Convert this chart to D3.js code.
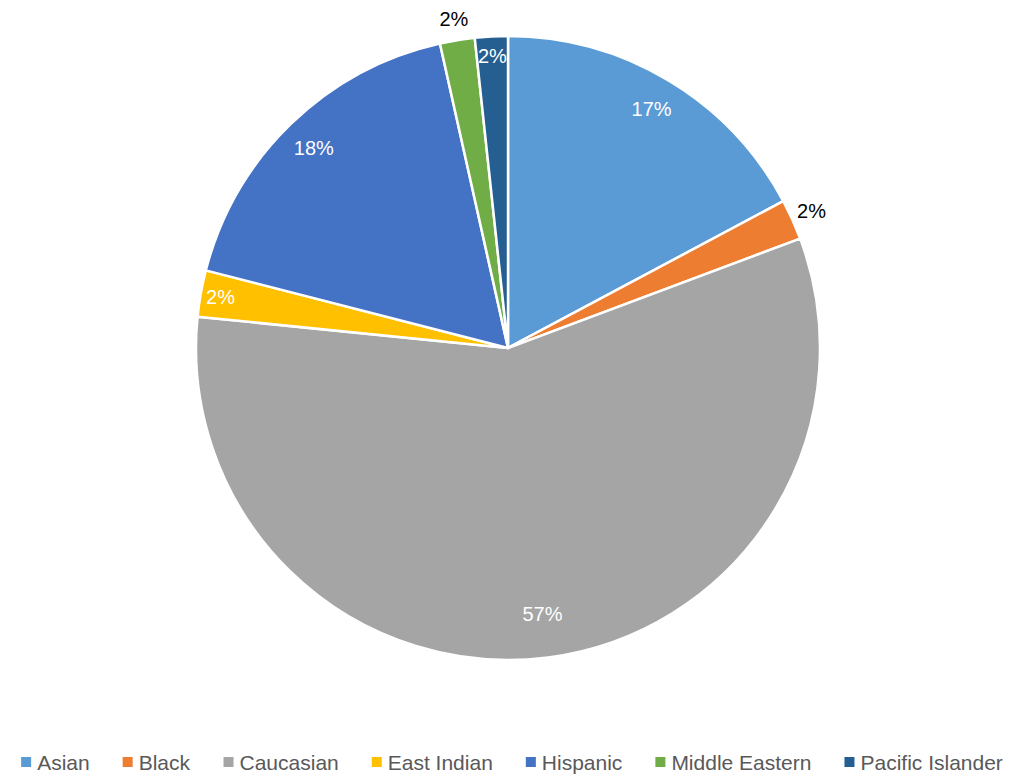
<!DOCTYPE html>
<html>
<head>
<meta charset="utf-8">
<script src="https://cdn.jsdelivr.net/npm/d3@7"></script>
<style>
  body { margin: 0; background: #fff; }
  svg { display: block; font-family: "Liberation Sans", Arial, sans-serif; }
</style>
</head>
<body>
<svg id="chart" width="1012" height="774"></svg>
<script>
"use strict";

const categories = [
  "Asian",
  "Black",
  "Caucasian",
  "East Indian",
  "Hispanic",
  "Middle Eastern",
  "Pacific Islander",
];
const shares = [17.2, 2.1, 57.3, 2.4, 17.5, 1.8, 1.7];
const colors = [
  "#5B9BD5",
  "#ED7D31",
  "#A5A5A5",
  "#FFC000",
  "#4472C4",
  "#70AD47",
  "#255E91",
];
// Excel "best fit" put these two labels outside the pie
const outsideLabels = ["Black", "Middle Eastern"];

const data = categories.map((c, i) => ({ name: c, value: shares[i], color: colors[i] }));
const total = d3.sum(shares);

const svg = d3.select("#chart");
const width = 1012;
const cx = 508, cy = 348, radius = 312;

const pie = d3.pie().value((d) => d.value).sort(null);
const arc = d3.arc().innerRadius(0).outerRadius(radius);
const arcs = pie(data);

const g = svg.append("g").attr("transform", `translate(${cx},${cy})`);

g.selectAll("path")
  .data(arcs)
  .join("path")
  .attr("d", arc)
  .attr("fill", (d) => d.data.color)
  .attr("stroke", "#fff")
  .attr("stroke-width", 2.5)
  .attr("stroke-linejoin", "round");

// Percentage labels
const fmt = d3.format(".0%");
function labelRadius(d) {
  const p = d.data.value / total;
  if (outsideLabels.includes(d.data.name)) return radius + 21;
  if (p < 0.05) return radius - 20;
  if (p > 0.5) return radius - 44;
  return radius - 33;
}

g.selectAll("text.pct")
  .data(arcs)
  .join("text")
  .attr("class", "pct")
  .attr("transform", (d) => {
    const r = labelRadius(d);
    const a = (d.startAngle + d.endAngle) / 2;
    return `translate(${Math.sin(a) * r},${-Math.cos(a) * r})`;
  })
  .attr("text-anchor", "middle")
  .attr("dominant-baseline", "central")
  .attr("font-size", 20)
  .attr("fill", (d) => (outsideLabels.includes(d.data.name) ? "#000" : "#fff"))
  .text((d) => fmt(d.data.value / total));

// Legend
const legendY = 762;
const legend = svg.append("g").attr("class", "legend");
const items = legend.selectAll("g")
  .data(data)
  .join("g");

items.append("rect")
  .attr("width", 10)
  .attr("height", 10)
  .attr("y", -5)
  .attr("fill", (d) => d.color);

items.append("text")
  .attr("x", 16)
  .attr("dominant-baseline", "central")
  .attr("font-size", 21)
  .attr("fill", "#595959")
  .text((d) => d.name);

const gap = 33;
let widths = [];
items.each(function () { widths.push(this.getBBox().width); });
const legendW = d3.sum(widths) + gap * (widths.length - 1);
let xPos = (width - legendW) / 2 + 6;
items.attr("transform", (d, i) => {
  const t = `translate(${xPos},${legendY})`;
  xPos += widths[i] + gap;
  return t;
});
</script>
</body>
</html>
